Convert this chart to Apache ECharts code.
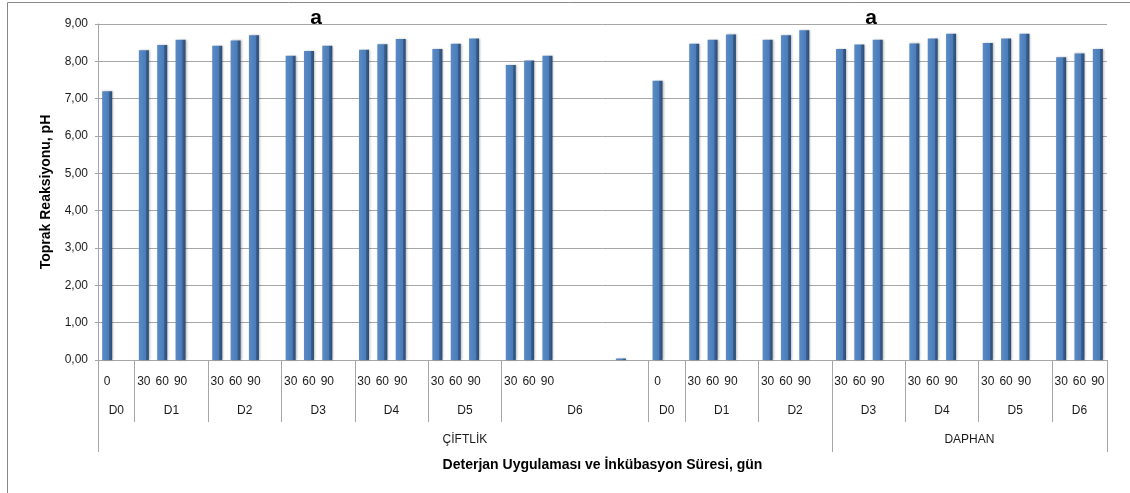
<!DOCTYPE html>
<html>
<head>
<meta charset="utf-8">
<script src="https://cdn.jsdelivr.net/npm/echarts@6/dist/echarts.min.js"></script>
<style>
  html, body { margin: 0; padding: 0; background: #fff; }
  #chart { width: 1130px; height: 493px; }
</style>
</head>
<body>
<div id="chart"></div>
<script>
  // one slot per row of the source sheet, blanks included
  const dayLabels = [
    '0', '',
    '30', '60', '90', '',
    '30', '60', '90', '',
    '30', '60', '90', '',
    '30', '60', '90', '',
    '30', '60', '90', '',
    '30', '60', '90', '', '', '', '', '',
    '0', '',
    '30', '60', '90', '',
    '30', '60', '90', '',
    '30', '60', '90', '',
    '30', '60', '90', '',
    '30', '60', '90', '',
    '30', '60', '90'
  ]
  const phValues = [
    7.20, null,
    8.30, 8.44, 8.58, null,
    8.42, 8.56, 8.70, null,
    8.15, 8.28, 8.42, null,
    8.31, 8.46, 8.60, null,
    8.33, 8.47, 8.61, null,
    7.90, 8.02, 8.15, null, null, null, 0.04, null,
    7.48, null,
    8.47, 8.58, 8.72, null,
    8.58, 8.70, 8.83, null,
    8.33, 8.45, 8.58, null,
    8.48, 8.61, 8.74, null,
    8.49, 8.61, 8.74, null,
    8.11, 8.21, 8.33
  ]
  // second level: treatment spans (slot boundaries) and names
  const treatmentBreaks = [0, 2, 6, 10, 14, 18, 22, 30, 32, 36, 40, 44, 48, 52, 55]
  const treatmentNames = ['D0', 'D1', 'D2', 'D3', 'D4', 'D5', 'D6', 'D0', 'D1', 'D2', 'D3', 'D4', 'D5', 'D6']
  // third level: soil spans
  const soilBreaks = [0, 40, 55]
  const soilNames = ['ÇİFTLİK', 'DAPHAN']
  const yTicks = [0, 1, 2, 3, 4, 5, 6, 7, 8, 9]

  const font = '"Liberation Sans", Arial, sans-serif'
  const lineGray = '#a6a6a6'

  function centers(breaks) {
    let list = []
    for (let i = 0; i < breaks.length - 1; i++) {
      list.push((breaks[i] + breaks[i + 1]) / 2)
    }
    return list
  }
  const treatmentCenters = centers(treatmentBreaks)
  const soilCenters = centers(soilBreaks)

  const chart = echarts.init(document.getElementById('chart'))
  chart.setOption({
    animation: false,
    textStyle: { fontFamily: font },
    grid: {
      left: 98,
      right: 23,
      top: 24,
      bottom: 133,
      containLabel: false,
      outerBoundsMode: 'none'
    },
    graphic: [
      {
        type: 'rect',
        shape: { x: 7.5, y: 2.5, width: 1300, height: 700 },
        style: { fill: 'none', stroke: '#898989', lineWidth: 1 },
        silent: true
      },
      {
        type: 'text', x: 316, y: 18,
        style: { text: 'a', font: 'bold 21px ' + font, fill: '#000', textAlign: 'center', textVerticalAlign: 'middle' }
      },
      {
        type: 'text', x: 871, y: 18,
        style: { text: 'a', font: 'bold 21px ' + font, fill: '#000', textAlign: 'center', textVerticalAlign: 'middle' }
      }
    ],
    xAxis: [
      {
        type: 'category',
        data: dayLabels,
        boundaryGap: true,
        axisLine: { show: true, lineStyle: { color: lineGray } },
        axisTick: { show: false },
        axisLabel: { interval: 0, margin: 16, fontSize: 12, color: '#1a1a1a', fontFamily: font },
        splitLine: { show: false }
      },
      {
        type: 'value',
        min: 0,
        max: dayLabels.length,
        position: 'bottom',
        axisLine: { show: false },
        splitLine: { show: false },
        axisTick: {
          show: true,
          customValues: treatmentBreaks,
          length: 62,
          lineStyle: { color: lineGray }
        },
        axisLabel: {
          show: true,
          customValues: treatmentCenters,
          margin: 45,
          fontSize: 12,
          color: '#1a1a1a',
          fontFamily: font,
          formatter: function (v) {
            return treatmentNames[treatmentCenters.indexOf(v)]
          }
        }
      },
      {
        type: 'value',
        min: 0,
        max: dayLabels.length,
        position: 'bottom',
        axisLine: { show: false },
        splitLine: { show: false },
        axisTick: {
          show: true,
          customValues: soilBreaks,
          length: 92,
          lineStyle: { color: lineGray }
        },
        axisLabel: {
          show: true,
          customValues: soilCenters,
          margin: 74,
          fontSize: 12,
          color: '#1a1a1a',
          fontFamily: font,
          formatter: function (v) {
            return soilNames[soilCenters.indexOf(v)]
          }
        },
        name: 'Deterjan Uygulaması ve İnkübasyon Süresi, gün',
        nameLocation: 'middle',
        nameGap: 98,
        nameTextStyle: { fontSize: 14, fontWeight: 'bold', color: '#000', fontFamily: font }
      }
    ],
    yAxis: {
      type: 'value',
      min: yTicks[0],
      max: yTicks[yTicks.length - 1],
      interval: 1,
      name: 'Toprak Reaksiyonu, pH',
      nameLocation: 'middle',
      nameGap: 45,
      nameTextStyle: { fontSize: 14, fontWeight: 'bold', color: '#000', fontFamily: font },
      axisLine: { show: true, lineStyle: { color: lineGray } },
      axisTick: { show: true, length: 3, lineStyle: { color: lineGray } },
      axisLabel: {
        fontSize: 12,
        color: '#1a1a1a',
        margin: 10,
        fontFamily: font,
        formatter: function (v) {
          return v.toFixed(2).replace('.', ',')
        }
      },
      splitLine: { show: true, lineStyle: { color: lineGray, width: 1 } }
    },
    series: [
      {
        type: 'bar',
        xAxisIndex: 0,
        data: phValues,
        barWidth: 10,
        itemStyle: {
          color: {
            type: 'linear', x: 0, y: 0, x2: 1, y2: 0,
            colorStops: [
              { offset: 0, color: '#5a8bc6' },
              { offset: 0.68, color: '#4a7cb9' },
              { offset: 0.7, color: '#3a6293' },
              { offset: 1, color: '#2c4b72' }
            ]
          },
          shadowColor: 'rgba(0,0,0,0.25)',
          shadowBlur: 2,
          shadowOffsetX: 1
        }
      }
    ]
  })
</script>
</body>
</html>
